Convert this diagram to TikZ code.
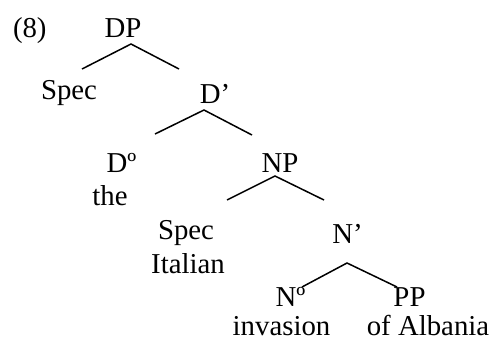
\documentclass[tikz,border=0pt]{standalone}
\usepackage{fontspec}
\setmainfont{Liberation Serif}
\begin{document}
\begin{tikzpicture}[x=1bp,y=-1bp,
  lbl/.style={inner sep=0pt,outer sep=0pt,anchor=base,font=\fontsize{28.8bp}{33bp}\selectfont},
  branch/.style={line width=1.5bp,line join=miter}]
\useasboundingbox (0,0) rectangle (495,341);
% example number
\node[lbl,anchor=base west] (ex) at (13,37) {(8)};
% node labels
\node[lbl] (dp)    at (123,37)  {DP};
\node[lbl] (spec1) at (69,99)   {Spec};
\node[lbl] (dbar)  at (215,103) {D’};
\node[lbl] (dzero) at (121.5,172) {Dº};
\node[lbl] (the)   at (110,205) {the};
\node[lbl] (np)    at (280,172) {NP};
\node[lbl] (spec2) at (186,239) {Spec};
\node[lbl] (ital)  at (188,273) {Italian};
\node[lbl] (nbar)  at (347.5,243) {N’};
\node[lbl] (nzero) at (290.5,306) {Nº};
\node[lbl] (pp)    at (409.5,306) {PP};
\node[lbl] (inv)   at (281.5,335) {invasion};
\node[lbl] (ofa)   at (428,335) {of Albania};
% branch points
\coordinate (dpL) at (82,69);   \coordinate (dpA) at (131,44);  \coordinate (dpR) at (179,69);
\coordinate (dbL) at (155,134); \coordinate (dbA) at (204,110); \coordinate (dbR) at (252,135);
\coordinate (npL) at (227,200); \coordinate (npA) at (275,176); \coordinate (npR) at (324,200);
\coordinate (nbL) at (302,287); \coordinate (nbA) at (347,263); \coordinate (nbR) at (397,287);
% branches
\draw[branch] (dpL) -- (dpA) -- (dpR);
\draw[branch] (dbL) -- (dbA) -- (dbR);
\draw[branch] (npL) -- (npA) -- (npR);
\draw[branch] (nbL) -- (nbA) -- (nbR);
\end{tikzpicture}
\end{document}
